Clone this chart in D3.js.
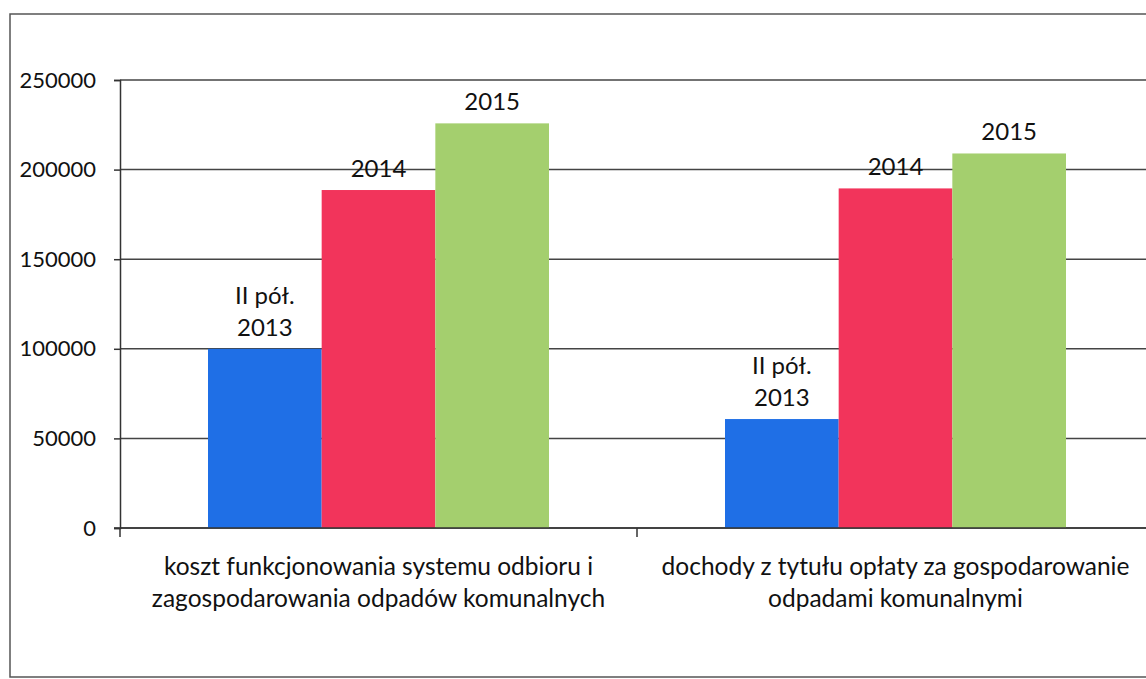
<!DOCTYPE html>
<html>
<head>
<meta charset="utf-8">
<script src="https://cdn.jsdelivr.net/npm/d3@7"></script>
<style>
  html, body { margin: 0; padding: 0; background: #fff; }
  svg { display: block; font-family: Lato, "Open Sans", sans-serif; }
</style>
</head>
<body>
<svg id="chart" width="1146" height="679"></svg>
<script>
// ---- data ----
const categories = [
  ["koszt funkcjonowania systemu odbioru i", "zagospodarowania odpadów komunalnych"],
  ["dochody z tytułu opłaty za gospodarowanie", "odpadami komunalnymi"]
];
const seriesNames = [["II pół.", "2013"], ["2014"], ["2015"]];
const seriesColors = ["#1f6fe6", "#f2345b", "#a4cf6e"];
const valuesH2013 = [100000, 60800];
const values2014 = [188600, 189500];
const values2015 = [225800, 209000];
const yTicks = [0, 50000, 100000, 150000, 200000, 250000];

const seriesValues = [valuesH2013, values2014, values2015];

const svg = d3.select("#chart");
const W = 1146, H = 679;

// outer frame (cropped on the right)
svg.append("rect")
  .attr("x", 10).attr("y", 14)
  .attr("width", 1150).attr("height", 663)
  .attr("fill", "none").attr("stroke", "#555").attr("stroke-width", 1.5);

const plotLeft = 120, plotTop = 80, plotBottom = 528;
const catIdx = categories.map((d, i) => i);

const x0 = d3.scaleBand().domain(catIdx).range([plotLeft, plotLeft + 517 * 2]).padding(0);
const x1 = d3.scaleBand().domain(d3.range(seriesNames.length))
  .range([88, x0.bandwidth() - 88]).padding(0);
const y = d3.scaleLinear().domain([0, 250000]).range([plotBottom, plotTop]);

// gridlines
svg.append("g").selectAll("line").data(yTicks).join("line")
  .attr("x1", plotLeft).attr("x2", W)
  .attr("y1", d => y(d)).attr("y2", d => y(d))
  .attr("stroke", "#444").attr("stroke-width", 1.5);

// y axis
const yAxis = d3.axisLeft(y).tickValues(yTicks).tickSize(6).tickPadding(18)
  .tickFormat(d3.format("d"));
const gy = svg.append("g").attr("transform", `translate(${plotLeft},0)`).call(yAxis);
gy.select(".domain").attr("stroke", "#333").attr("stroke-width", 1.5);
gy.selectAll(".tick line").attr("stroke", "#333").attr("stroke-width", 1.5);
gy.selectAll(".tick text").attr("font-size", 22).attr("fill", "#111")
  .attr("font-family", "Lato, sans-serif");

// bars
const groups = svg.append("g").selectAll("g").data(catIdx).join("g")
  .attr("transform", d => `translate(${x0(d)},0)`);

groups.selectAll("rect").data(ci => seriesValues.map((vals, si) => ({si, v: vals[ci]})))
  .join("rect")
  .attr("x", d => x1(d.si))
  .attr("width", x1.bandwidth())
  .attr("y", d => y(d.v))
  .attr("height", d => y(0) - y(d.v))
  .attr("fill", d => seriesColors[d.si]);

// data labels (series names above bars)
groups.selectAll("text.lbl").data(ci => seriesValues.map((vals, si) => ({si, v: vals[ci]})))
  .join("text").attr("class", "lbl")
  .attr("text-anchor", "middle")
  .attr("font-size", 24).attr("fill", "#111")
  .each(function(d) {
    const lines = seriesNames[d.si];
    const cx = x1(d.si) + x1.bandwidth() / 2;
    const baseY = y(d.v) - 13;
    const t = d3.select(this);
    lines.forEach((ln, k) => {
      t.append("tspan").attr("x", cx)
        .attr("y", baseY - (lines.length - 1 - k) * 32)
        .text(ln);
    });
  });

// x axis line + ticks
svg.append("line").attr("x1", plotLeft - 6).attr("x2", W)
  .attr("y1", plotBottom).attr("y2", plotBottom)
  .attr("stroke", "#333").attr("stroke-width", 1.5);
const xTickPos = catIdx.map(i => x0(i));
svg.append("g").selectAll("line").data(xTickPos).join("line")
  .attr("x1", d => d).attr("x2", d => d)
  .attr("y1", plotBottom).attr("y2", plotBottom + 9)
  .attr("stroke", "#333").attr("stroke-width", 1.5);

// category labels
svg.append("g").selectAll("text").data(catIdx).join("text")
  .attr("text-anchor", "middle").attr("font-size", 24.5).attr("fill", "#111")
  .each(function(i) {
    const t = d3.select(this);
    const cx = x0(i) + x0.bandwidth() / 2;
    categories[i].forEach((ln, k) => {
      t.append("tspan").attr("x", cx).attr("y", 575 + k * 32).text(ln);
    });
  });
</script>
</body>
</html>
